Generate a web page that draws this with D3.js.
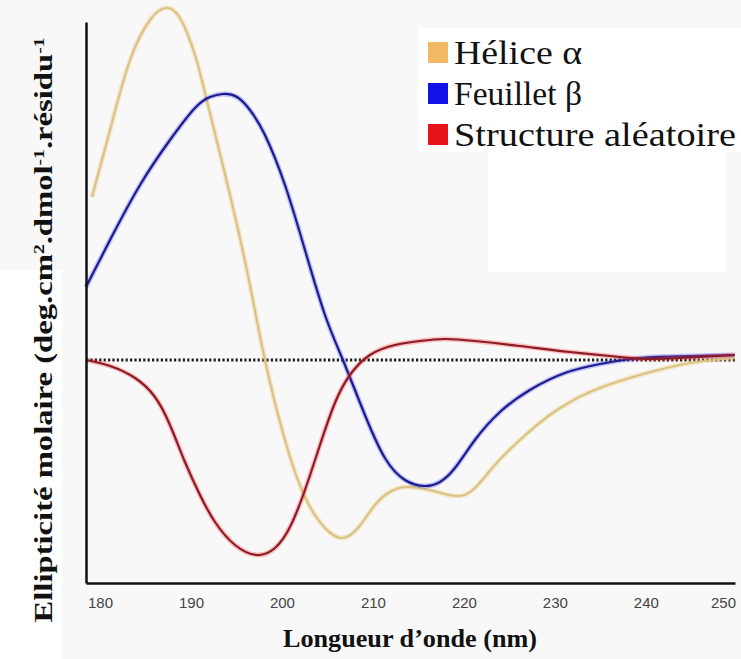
<!DOCTYPE html>
<html>
<head>
<meta charset=utf-8 />
<title>Dichroisme circulaire</title>
<style type="text/css">
 body { margin:0; background:#f8f8f8; }
 svg { display:block; }
</style>
<script src="https://d3js.org/d3.v7.min.js"></script>
</head>
<body>
<div id="chart-container"></div>
<script>

// longueur d'onde (nm) et ellipticite (unites arbitraires)
var heliceX = [179.12, 181.10, 183.30, 185.49, 187.14, 188.79, 190.44, 191.65, 194.29, 196.48, 198.13, 200.33, 202.53, 204.73, 206.59, 208.35, 210.22, 211.87, 213.52, 215.71, 217.91, 219.56, 221.21, 223.41, 226.15, 229.45, 233.85, 239.34, 244.84, 249.78];
var heliceY = [40.75, 57.5, 75, 85, 88, 85.5, 76.25, 65.75, 41.25, 18.75, 0, -20, -34.25, -42, -44.5, -42, -36.25, -33, -31.75, -32.25, -33.5, -34, -32, -26.25, -20, -13.75, -8, -3.75, -0.75, 0.5];

var feuilletX = [178.46, 181.10, 184.40, 187.69, 190.44, 192.09, 193.52, 195.05, 196.48, 198.13, 200.33, 202.53, 204.73, 206.70, 209.12, 211.32, 213.52, 215.71, 217.36, 219.01, 221.21, 223.96, 227.25, 231.10, 234.95, 239.34, 244.84, 249.78];
var feuilletY = [18.25, 30, 43.75, 55, 63, 65.75, 66.5, 65.75, 62.5, 56.25, 43.75, 27.5, 11.25, 0, -13.75, -24.5, -30, -31.5, -30.5, -27, -20, -13, -7.5, -3.25, -1, 0.5, 1, 1.25];

var aleatoireX = [178.46, 181.10, 183.85, 186.04, 187.69, 189.34, 190.99, 192.64, 194.84, 197.25, 199.23, 200.88, 202.53, 204.18, 205.82, 207.47, 209.67, 212.42, 215.16, 217.91, 221.21, 226.15, 231.65, 237.14, 240.44, 245.93, 249.78];
var aleatoireY = [0, -1.5, -4.5, -9.25, -16.25, -25.5, -33.75, -40.5, -46.25, -48.75, -47, -41.75, -32.5, -21.25, -10.75, -3.75, 1.25, 3.75, 4.75, 5.25, 4.75, 3.5, 2, 0.75, 0.25, 0.75, 1.25];

var xTicks = [180, 190, 200, 210, 220, 230, 240, 250];
var seriesNames = ["Hélice α", "Feuillet β", "Structure aléatoire"];
var seriesColors = ["#d8c486", "#1c1c8a", "#8a1c26"];
var glowColors = ["#f2c060", "#3a3aff", "#ff3838"];
var swatchColors = ["#f2b863", "#1212e6", "#e8141c"];

var W = 741, H = 659;

var svg = d3.select("#chart-container")
  .append("svg")
    .attr("width", W)
    .attr("height", H);

// zones blanches du fond (image d'origine recomposee)
svg.append("rect").attr("x", 418).attr("y", 28).attr("width", 323).attr("height", 124).attr("fill", "#fff");
svg.append("rect").attr("x", 488).attr("y", 152).attr("width", 238).attr("height", 120).attr("fill", "#fff");
svg.append("rect").attr("x", 0).attr("y", 270).attr("width", 62).attr("height", 389).attr("fill", "#fff");

var x = d3.scaleLinear()
  .domain([178.46, 249.8])
  .range([86, 735]);

var y = d3.scaleLinear()
  .domain([-55.75, 84.5])
  .range([583, 22]);

var series = [
  heliceX.map(function(v, i) { return [v, heliceY[i]]; }),
  feuilletX.map(function(v, i) { return [v, feuilletY[i]]; }),
  aleatoireX.map(function(v, i) { return [v, aleatoireY[i]]; })
];

var line = d3.line()
  .x(function(d) { return x(d[0]); })
  .y(function(d) { return y(d[1]); })
  .curve(d3.curveNatural);

// ligne zero pointillee
svg.append("line")
  .attr("x1", x(178.46)).attr("x2", x(249.8))
  .attr("y1", y(0)).attr("y2", y(0))
  .attr("stroke", "#1e1e1e")
  .attr("stroke-width", 3)
  .attr("stroke-dasharray", "2.2,2.2");

// halo puis trait de chaque courbe
series.forEach(function(s, i) {
  svg.append("path")
    .attr("d", line(s))
    .attr("fill", "none")
    .attr("stroke", glowColors[i])
    .attr("stroke-opacity", 0.3)
    .attr("stroke-width", 5);
  svg.append("path")
    .attr("d", line(s))
    .attr("fill", "none")
    .attr("stroke", seriesColors[i])
    .attr("stroke-width", 2.2);
});

// axes
var xAxis = svg.append("g")
  .attr("transform", "translate(0," + y(-55.75) + ")")
  .call(d3.axisBottom(x).tickValues(xTicks).tickSize(0).tickPadding(14));
xAxis.select(".domain").attr("stroke", "#111").attr("stroke-width", 2.5);
xAxis.selectAll("text")
  .attr("font-family", "'Liberation Sans', Arial, sans-serif")
  .attr("font-size", 15)
  .attr("fill", "#444");
xAxis.selectAll(".tick").filter(function(d) { return d === 250; })
  .attr("transform", "translate(" + (x(249.8) + 1) + ",0)")
  .select("text").attr("text-anchor", "end");

var yAxis = svg.append("g")
  .attr("transform", "translate(" + x(178.46) + ",0)")
  .call(d3.axisLeft(y).tickValues([]).tickSize(0));
yAxis.select(".domain").attr("stroke", "#111").attr("stroke-width", 2.5);

// titres des axes
svg.append("text")
  .attr("x", 410)
  .attr("y", 647)
  .attr("text-anchor", "middle")
  .attr("font-family", "'Liberation Serif', 'Times New Roman', serif")
  .attr("font-weight", "bold")
  .attr("font-size", 26)
  .attr("textLength", 254)
  .attr("lengthAdjust", "spacingAndGlyphs")
  .attr("fill", "#111")
  .text("Longueur d\u2019onde (nm)");

var yl = svg.append("text")
  .attr("transform", "translate(52,330) rotate(-90)")
  .attr("text-anchor", "middle")
  .attr("font-family", "'Liberation Serif', 'Times New Roman', serif")
  .attr("font-weight", "bold")
  .attr("font-size", 25)
  .attr("textLength", 585)
  .attr("lengthAdjust", "spacingAndGlyphs")
  .attr("fill", "#111");
yl.append("tspan").text("Ellipticité  molaire (deg.cm");
yl.append("tspan").attr("baseline-shift", "super").attr("font-size", 15).text("2");
yl.append("tspan").text(".dmol");
yl.append("tspan").attr("baseline-shift", "super").attr("font-size", 15).text("-1");
yl.append("tspan").text(".résidu");
yl.append("tspan").attr("baseline-shift", "super").attr("font-size", 15).text("-1");

// legende
var legend = svg.append("g");
var legendWidths = [128, 128, 282];
seriesNames.forEach(function(name, i) {
  legend.append("rect")
    .attr("x", 428)
    .attr("y", 42 + i * 41)
    .attr("width", 20)
    .attr("height", 21)
    .attr("fill", swatchColors[i]);
  legend.append("text")
    .attr("x", 454)
    .attr("y", 64 + i * 41)
    .attr("font-family", "'Liberation Serif', 'Times New Roman', serif")
    .attr("font-size", 33)
    .attr("textLength", legendWidths[i])
    .attr("lengthAdjust", "spacingAndGlyphs")
    .attr("fill", "#111")
    .text(name);
});

</script>
</body>
</html>
